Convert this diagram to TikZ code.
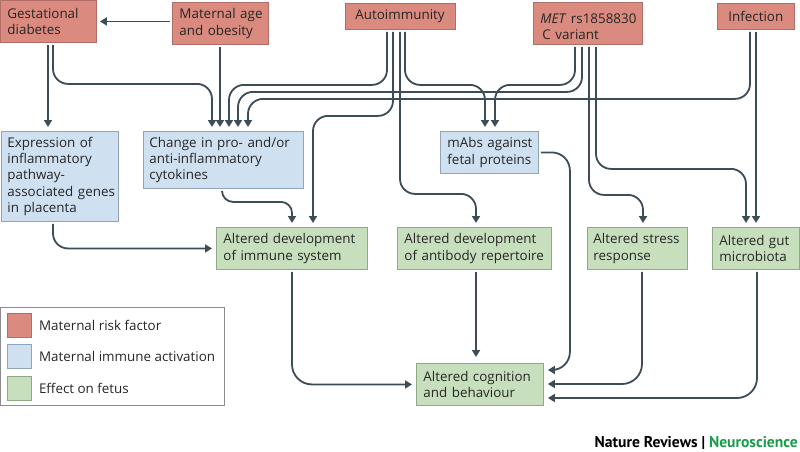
\documentclass[tikz,border=0pt]{standalone}
\usepackage{fontspec}
\setmainfont{Open Sans}
\newfontfamily\nrfont{PT Sans}
\usetikzlibrary{arrows.meta}
\definecolor{rfill}{HTML}{DA8A7E}
\definecolor{rdraw}{HTML}{B06E66}
\definecolor{bfill}{HTML}{CFE0F1}
\definecolor{bdraw}{HTML}{92A5B8}
\definecolor{gfill}{HTML}{C8DFBE}
\definecolor{gdraw}{HTML}{8FA988}
\definecolor{lnc}{HTML}{3D4D58}
\definecolor{txt}{HTML}{262626}
\definecolor{legc}{HTML}{8C8C8C}
\definecolor{nrgreen}{HTML}{1A9B4B}
\begin{document}
\begin{tikzpicture}[x=1pt,y=-1pt,
  box/.style={draw, line width=0.9pt, anchor=north west, inner xsep=7pt, inner ysep=0pt, align=left, text=txt, font=\fontsize{13.4}{16.3}\selectfont},
  rbox/.style={box, fill=rfill, draw=rdraw},
  bbox/.style={box, fill=bfill, draw=bdraw},
  gbox/.style={box, fill=gfill, draw=gdraw},
  conn/.style={draw=lnc, line width=1.8pt, rounded corners=15pt, -{Triangle[length=7pt,width=8pt]}, shorten >=4pt, shorten <=2pt},
  swatch/.style={draw, line width=0.8pt, anchor=north west, minimum width=24pt, minimum height=24pt, inner sep=0pt},
  legtext/.style={anchor=west, inner sep=0pt, text=txt, font=\fontsize{13.4}{16.3}\selectfont},
]
\useasboundingbox (0,0) rectangle (800,452);

% top row: maternal risk factors
\node[rbox, text width=82pt, minimum height=42pt] (gd) at (0,0) {Gestational\\diabetes};
\node[rbox, text width=82pt, minimum height=42pt] (ma) at (172,2) {Maternal~age\\and~obesity};
\node[rbox, text width=96pt, minimum height=26pt, inner xsep=7pt] (au) at (345,3) {\hspace{3pt}Autoimmunity};
\node[rbox, text width=95pt, minimum height=42pt] (met) at (533,2) {\hspace{2pt}\textit{MET}~rs1858830\\\hspace{2pt}C~variant};
\node[rbox, text width=63pt, minimum height=26pt] (inf) at (717,3) {\hspace{4pt}Infection};

% middle row: maternal immune activation
\node[bbox, text width=105pt, inner xsep=6pt, minimum height=90pt] (exp) at (1,131) {Expression~of\\inflammatory\\pathway-\\associated~genes\\in~placenta};
\node[bbox, text width=148pt, inner xsep=6pt, minimum height=57pt] (cyt) at (143,131) {Change~in~pro-~and/or\\anti-inflammatory\\cytokines};
\node[bbox, text width=84pt, minimum height=42pt] (mab) at (440,131) {mAbs~against\\fetal~proteins};

% effects on fetus
\node[gbox, text width=137pt, minimum height=42pt] (imm) at (216,227) {Altered~development\\of~immune~system};
\node[gbox, text width=140pt, minimum height=42pt] (ab) at (397,227) {Altered~development\\of~antibody~repertoire};
\node[gbox, text width=88pt, inner xsep=6pt, minimum height=42pt] (str) at (587,227) {Altered~stress\\response};
\node[gbox, text width=73pt, minimum height=42pt] (gut) at (712,227) {Altered~gut\\microbiota};
\node[gbox, text width=113pt, minimum height=42pt] (cog) at (416,363) {Altered~cognition\\and~behaviour};

% connectors
\draw[conn, shorten >=3pt] (ma.west |- gd.east) -- (gd.east);
\draw[conn] ([xshift=48pt]gd.south west) -- ([xshift=48pt]gd.south west |- exp.north);
\draw[conn] ([xshift=53pt]gd.south west) -- ++(0,41) -| ([xshift=69pt]cyt.north west);
\draw[conn] ([xshift=48pt]ma.south west) -- ([xshift=48pt]ma.south west |- cyt.north);
\draw[conn] ([xshift=42pt]au.south west) -- ++(0,55) -| ([xshift=86pt]cyt.north west);
\draw[conn] ([xshift=49pt]met.south west) -- ++(0,47) -| ([xshift=95pt]cyt.north west);
\draw[conn] ([xshift=33pt]inf.south west) -- ++(0,69) -| ([xshift=105pt]cyt.north west);
\draw[conn] ([xshift=48pt]au.south west) -- ++(0,86) -| ([xshift=97pt]imm.north west);
\draw[conn] ([xshift=55pt]au.south west) -- ++(0,164) -| ([xshift=79pt]ab.north west);
\draw[conn] ([xshift=60pt]au.south west) -- ++(0,55) -| ([xshift=45pt]mab.north west);
\draw[conn] ([xshift=42pt]met.south west) -- ++(0,40) -| ([xshift=55pt]mab.north west);
\draw[conn] ([xshift=56pt]met.south west) -- ++(0,150) -| ([xshift=56pt]str.north west);
\draw[conn] ([xshift=63pt]met.south west) -- ++(0,124) -| ([xshift=34pt]gut.north west);
\draw[conn] ([xshift=39pt]inf.south west) -- ([xshift=39pt]inf.south west |- gut.north);
\draw[conn] ([xshift=52pt]exp.south west) |- (imm.west);
\draw[conn, rounded corners=11pt] ([xshift=79pt]cyt.south west) -- ++(0,13) -| ([xshift=76pt]imm.north west);
\draw[conn, rounded corners=20pt] ([xshift=76pt]imm.south west) |- (cog.west);
\draw[conn, shorten >=6pt] ([xshift=79pt]ab.south west) -- ([xshift=79pt]ab.south west |- cog.north);
\draw[conn, rounded corners=18pt] (mab.east) -| ([xshift=26pt,yshift=-7pt]cog.north east) -- ([yshift=-7pt]cog.north east);
\draw[conn, rounded corners=20pt] ([xshift=55pt]str.south west) |- ([yshift=-21pt]cog.north east);
\draw[conn, rounded corners=20pt] ([xshift=45pt]gut.south west) |- ([yshift=-35pt]cog.north east);

% legend
\node[draw=legc, line width=0.9pt, anchor=north west, minimum width=224pt, minimum height=98pt, inner sep=0pt] (leg) at (0,307) {};
\node[swatch, fill=rfill, draw=rdraw] (s1) at (7,313) {};
\node[swatch, fill=bfill, draw=bdraw] (s2) at (7,344) {};
\node[swatch, fill=gfill, draw=gdraw] (s3) at (7,376) {};
\node[legtext] (l1) at ([xshift=7pt]s1.east) {Maternal risk factor};
\node[legtext] (l2) at ([xshift=7pt]s2.east) {Maternal immune activation};
\node[legtext] (l3) at ([xshift=7pt]s3.east) {Effect on fetus};

% footer
\node[anchor=east, inner sep=0pt, font=\nrfont\bfseries\fontsize{15.6}{17}\selectfont, text=black] (nr) at (798,443) {Nature Reviews | \textcolor{nrgreen}{Neuroscience}};
\end{tikzpicture}
\end{document}
